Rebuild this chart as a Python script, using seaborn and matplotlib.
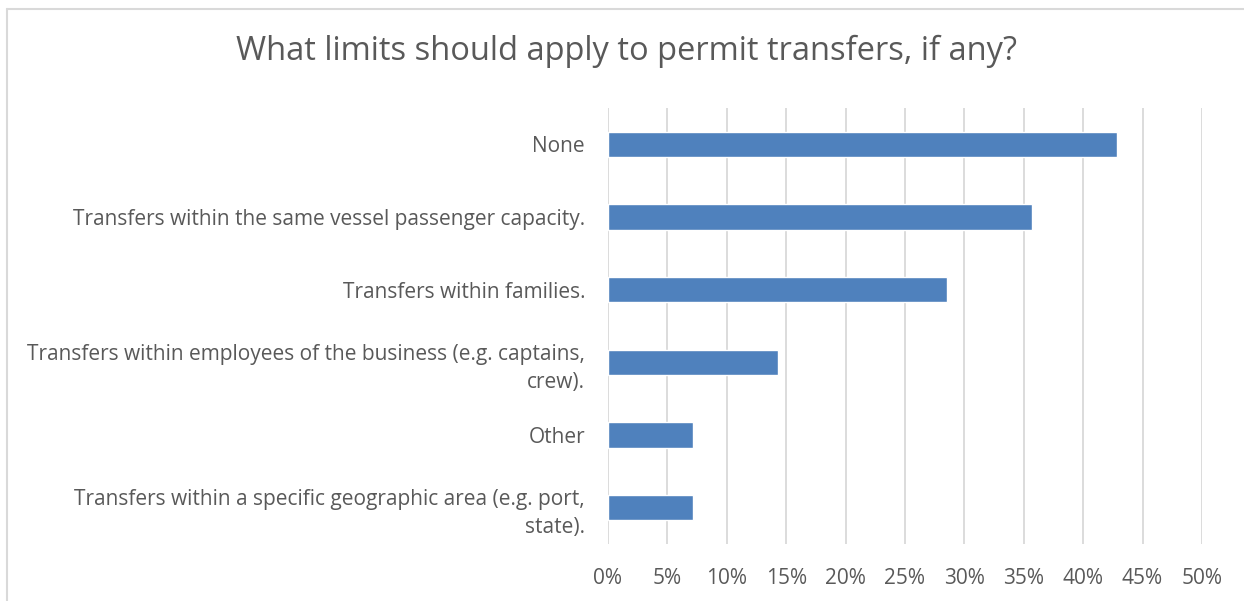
import matplotlib
matplotlib.use("Agg")
import matplotlib.pyplot as plt
import seaborn as sns
import pandas as pd
from matplotlib.lines import Line2D
from matplotlib.ticker import MultipleLocator, PercentFormatter

categories = [
    "None",
    "Transfers within the same vessel passenger capacity.",
    "Transfers within families.",
    "Transfers within employees of the business (e.g. captains,\ncrew).",
    "Other",
    "Transfers within a specific geographic area (e.g. port,\nstate).",
]
shares = [42.86, 35.71, 28.57, 14.29, 7.14, 7.14]

df = pd.DataFrame({"category": categories, "share": shares})

sns.set_theme(style="white")
plt.rcParams["font.family"] = ["Open Sans", "DejaVu Sans"]

text_color = "#595959"
grid_color = "#D9D9D9"
bar_color = "#4F81BD"

fig = plt.figure(figsize=(12.44, 6.01), dpi=100)
ax = fig.add_axes([0.4887, 0.0948, 0.4775, 0.7255])

sns.barplot(data=df, x="share", y="category", orient="h", color=bar_color,
            width=0.352, saturation=1, ax=ax, zorder=3)

ax.set_xlim(0, 50)
ax.xaxis.set_major_locator(MultipleLocator(5))
ax.xaxis.set_major_formatter(PercentFormatter(decimals=0))
ax.grid(axis="x", color=grid_color, linewidth=1.3, zorder=0)
ax.grid(axis="y", visible=False)
for s in ax.spines.values():
    s.set_visible(False)

ax.set_xlabel("")
ax.set_ylabel("")
ax.tick_params(axis="x", length=0, pad=17, labelsize=15, labelcolor=text_color)
ax.tick_params(axis="y", length=0, pad=16.5, labelsize=15, labelcolor=text_color)
for lbl in ax.get_yticklabels():
    lbl.set_horizontalalignment("right")
    lbl.set_multialignment("right")
    lbl.set_linespacing(1.45)

fig.text(0.504, 0.914, "What limits should apply to permit transfers, if any?",
         ha="center", va="center", fontsize=23.5, color=text_color)

# light chart-area frame along the top and left edges
fig.add_artist(Line2D([0.0056, 0.0056], [0, 0.985], transform=fig.transFigure,
                      color=grid_color, linewidth=1.5))
fig.add_artist(Line2D([0.0056, 1.0], [0.985, 0.985], transform=fig.transFigure,
                      color=grid_color, linewidth=1.5))

fig.savefig("out.png", dpi=100, facecolor="white")
